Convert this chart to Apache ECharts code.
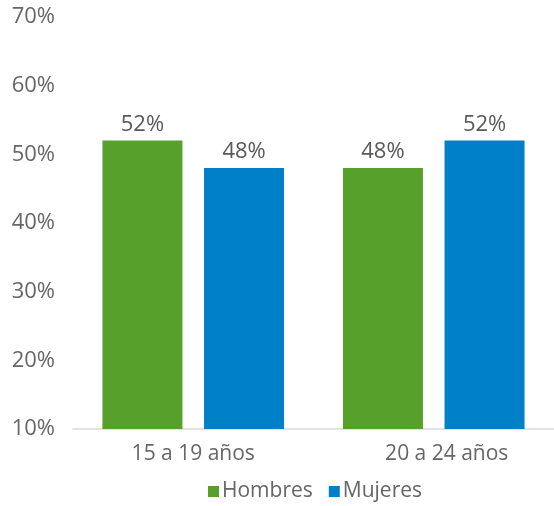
<!DOCTYPE html>
<html><head><meta charset="utf-8">
<script src="https://cdn.jsdelivr.net/npm/echarts@6/dist/echarts.min.js"></script>
<style>html,body{margin:0;padding:0;background:#fff}#c{width:554px;height:506px}</style>
</head><body><div id="c"></div>
<script>
const categories = ['15 a 19 años', '20 a 24 años'];
const hombres = [52, 48];
const mujeres = [48, 52];
const yTicks = [10, 20, 30, 40, 50, 60, 70];

const font = 'Open Sans';
const chart = echarts.init(document.getElementById('c'));
chart.setOption({
  animation: false,
  textStyle: { fontFamily: font },
  grid: { left: 73, right: 0, top: 17, bottom: 77 },
  legend: {
    bottom: -1, left: 203,
    itemWidth: 11, itemHeight: 11, itemGap: 16,
    icon: 'rect',
    textStyle: { fontSize: 21, color: '#666', fontFamily: font, padding: [0, 0, 0, -2] },
    data: ['Hombres', 'Mujeres']
  },
  xAxis: {
    type: 'category', data: categories,
    axisLine: { lineStyle: { color: '#d9d9d9', width: 1.5 } },
    axisTick: { show: false },
    axisLabel: { fontSize: 21, color: '#666', margin: 15, fontFamily: font,
      formatter: (v, i) => i === 1 ? '{b|' + v + '}' : v,
      rich: { b: { fontSize: 21, color: '#666', fontFamily: font, padding: [0, 0, 0, 26] } } }
  },
  yAxis: {
    type: 'value', min: yTicks[0], max: yTicks[yTicks.length - 1], interval: 10,
    splitLine: { show: false },
    axisLine: { show: false }, axisTick: { show: false },
    axisLabel: { fontSize: 22, color: '#666', margin: 18, formatter: v => v + '%', fontFamily: font }
  },
  series: [
    { name: 'Hombres', type: 'bar', data: hombres, barWidth: 80, barGap: '27%',
      itemStyle: { color: '#57a02b' },
      label: { show: true, position: 'top', formatter: p => p.value + '%', fontSize: 22, color: '#595959', distance: 5, fontFamily: font } },
    { name: 'Mujeres', type: 'bar', data: mujeres, barWidth: 80,
      itemStyle: { color: '#0080c7' },
      label: { show: true, position: 'top', formatter: p => p.value + '%', fontSize: 22, color: '#595959', distance: 5, fontFamily: font } }
  ]
});
</script></body></html>
